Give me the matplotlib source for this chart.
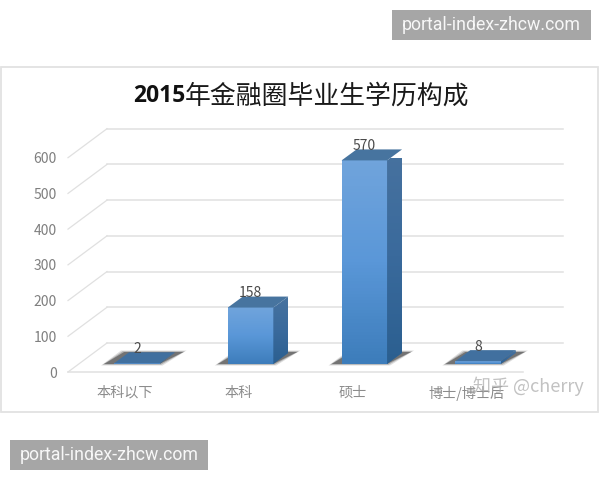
import numpy as np
import matplotlib
matplotlib.use("Agg")
import matplotlib.pyplot as plt
from matplotlib.colors import LinearSegmentedColormap
from matplotlib.patches import Rectangle

plt.rcParams['font.family'] = ['Noto Sans CJK SC', 'DejaVu Sans']

categories = ['本科以下', '本科', '硕士', '博士/博士后']
values = [2, 158, 570, 8]
y_ticks = [0, 100, 200, 300, 400, 500, 600]
title_year = '2015'
title_rest = '年金融圈毕业生学历构成'
watermark = '知乎 @cherry'
site_label = 'portal-index-zhcw.com'

W, H = 600, 480
fig = plt.figure(figsize=(W / 100, H / 100), dpi=100, facecolor='white')

# overlay in pixel coords for frame, title and the grey site boxes
bg = fig.add_axes([0, 0, 1, 1], zorder=0)
bg.set_xlim(0, W)
bg.set_ylim(H, 0)
bg.axis('off')
bg.add_patch(Rectangle((1, 67), 597, 345, fc='white', ec='#e2e2e2', lw=1.3))

# front plane of the fake 3d box
left, right, y0, y600 = 68, 523, 372, 157.7
ax = fig.add_axes([left / W, 1 - y0 / H, (right - left) / W, (y0 - y600) / H], zorder=1)
ax.patch.set_alpha(0)
ax.set_xlim(0, 4)
ax.set_ylim(0, 600)
px_x = 4 / (right - left)
px_y = 600 / (y0 - y600)

for s in ax.spines.values():
    s.set_visible(False)

# walls
grid_c = '#e0e0e0'
wall_dx, wall_dy = 39 * px_x, 29 * px_y
back_end = (563 - left) * px_x
for v in y_ticks:
    ax.plot([0, wall_dx], [v, v + wall_dy], color=grid_c, lw=0.9, clip_on=False, zorder=1)
    ax.plot([wall_dx, back_end], [v + wall_dy, v + wall_dy], color=grid_c, lw=1.1,
            clip_on=False, zorder=1)
ax.plot([0, 4], [0, 0], color=grid_c, lw=1.1, clip_on=False, zorder=1)

# bars
bar_w = 45.5 * px_x
depth_x, depth_y = 15 * px_x, 11 * px_y
floor = 8 * px_y
front_cmap = LinearSegmentedColormap.from_list('front', ['#3d7dbb', '#5a97d8', '#70a4dc'])
side_cmap = LinearSegmentedColormap.from_list('side', ['#2b5f90', '#3a6a9c', '#47729f'])
ramp = np.linspace(0, 1, 64).reshape(-1, 1)

for i, v in enumerate(values):
    x0 = i + 0.405
    x1 = x0 + bar_w
    top = floor + v

    # shadow, a few stacked layers to soften the edge
    for grow, alpha in [(3, 0.18), (1.5, 0.3), (0, 0.6)]:
        gx, gy = grow * px_x, grow * px_y * 0.5
        ax.fill([x0 - 10 * px_x - gx, x1 + gx, x1 + 24 * px_x + gx, x0 + 10 * px_x - gx],
                [floor - gy, floor - gy, floor + 12 * px_y + gy, floor + 12 * px_y + gy],
                color='#4a4a4a', alpha=alpha, lw=0, clip_on=False, zorder=2)

    front = ax.imshow(ramp, cmap=front_cmap, origin='lower', aspect='auto',
                      extent=(x0, x1, floor, top), zorder=3)
    front.set_clip_on(False)
    side = ax.imshow(ramp, cmap=side_cmap, origin='lower', aspect='auto',
                     extent=(x1, x1 + depth_x, floor, top + depth_y), zorder=3)
    side_poly = ax.fill([x1, x1 + depth_x, x1 + depth_x, x1],
                        [floor, floor + depth_y, top + depth_y, top],
                        color='none', lw=0, clip_on=False, zorder=3)[0]
    side.set_clip_path(side_poly)
    ax.fill([x0, x1, x1 + depth_x, x0 + depth_x],
            [top, top, top + depth_y, top + depth_y],
            color='#47749f' if v > 50 else '#41709f', lw=0, clip_on=False, zorder=4)

    ax.annotate(str(v), (x0 + bar_w / 2, top), xytext=(0, 10.5), textcoords='offset points',
                ha='center', va='center', fontsize=10, color='#4a4a4a', zorder=5,
                annotation_clip=False)

ax.set_xlim(0, 4)
ax.set_ylim(0, 600)
ax.set_yticks(y_ticks)
ax.set_xticks(np.arange(len(categories)) + 0.5)
ax.set_xticklabels(categories, fontsize=10.2, color='#8c8c8c')
ax.tick_params(axis='x', length=0, pad=10)
ax.tick_params(axis='y', length=0, pad=8, labelsize=10, labelcolor='#7f7f7f')

# title, bold year then regular text
bg.text(133, 96, title_year, fontsize=16.5, fontweight='bold', color='#111111',
        ha='left', va='center', family=['Open Sans', 'DejaVu Sans'])
bg.text(185, 96, title_rest, fontsize=18.6, color='#1a1a1a', ha='left', va='center')

# watermark
top_ax = fig.add_axes([0, 0, 1, 1], zorder=2)
top_ax.set_xlim(0, W)
top_ax.set_ylim(H, 0)
top_ax.axis('off')
top_ax.text(473, 386, watermark, fontsize=13, color='#a8a8a8', alpha=0.7,
            ha='left', va='center')

for bx, by in [(392, 10), (10, 440)]:
    top_ax.add_patch(Rectangle((bx, by), 199 if bx > 100 else 198, 30, fc='#a6a6a6', ec='none'))
    top_ax.text(bx + 99.5, by + 15, site_label, fontsize=12.8, color='#f7f7f7',
                ha='center', va='center', family=['Roboto', 'DejaVu Sans'])

fig.savefig('out.png', dpi=100)
